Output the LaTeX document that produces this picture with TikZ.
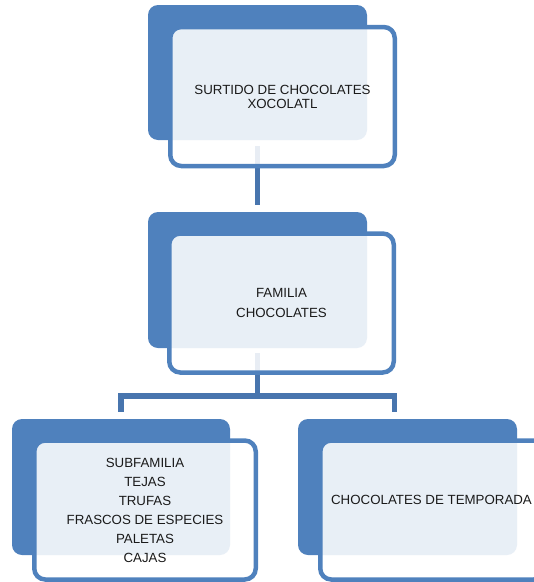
\documentclass[tikz,border=0pt]{standalone}
\usepackage{fontspec}
\setmainfont{Liberation Sans}
\definecolor{accent}{HTML}{4F81BD}
\definecolor{connc}{HTML}{4875AE}
\definecolor{txt}{HTML}{1A1A1A}
\tikzset{
  darkbox/.style={fill=accent, rounded corners=10pt, minimum width=219pt, minimum height=135pt, inner sep=0pt},
  framebox/.style={draw=accent, line width=4.5pt, fill=white, fill opacity=0.875, text opacity=1,
    rounded corners=11pt, minimum width=224.5pt, minimum height=139pt, inner sep=0pt,
    align=center, text=txt},
  conn/.style={draw=connc, line width=5.5pt},
  lbl/.style={inner sep=0pt, align=center, text=txt}
}
\begin{document}
\begin{tikzpicture}[x=1pt,y=-1pt]
\clip (0,0) rectangle (534,582);
% dark back panels
\node[darkbox] (topdark) at (257.5,72.5) {};
\node[darkbox, minimum height=136pt] (middark) at (257.5,280) {};
\node[darkbox, minimum width=218pt, minimum height=136pt] (ldark) at (121,487) {};
\node[darkbox, minimum height=136pt] (rdark) at (407.5,487) {};
% connectors
\coordinate (a1) at ([yshift=-6pt]topdark.south);
\coordinate (a2) at ([yshift=7pt]middark.north);
\draw[conn] (a1) -- (a2);
\coordinate (b1) at ([yshift=-5pt]middark.south);
\coordinate (bar) at (257.5,396);
\coordinate (l1) at ([yshift=7pt]ldark.north);
\coordinate (r1) at ([xshift=-13pt,yshift=7pt]rdark.north);
\draw[conn] (b1) -- (bar);
\draw[conn] (l1) -- (l1 |- bar) -- (r1 |- bar) -- (r1);
% framed front panels
\node[framebox, font=\fontsize{13.3}{14}\selectfont] (topbox) at (282.5,96.5)
  {SURTIDO DE CHOCOLATES\\XOCOLATL};
\node[framebox, font=\fontsize{13.3}{20}\selectfont] (midbox) at (281.5,303)
  {FAMILIA\\CHOCOLATES};
\node[framebox, minimum width=221.5pt, font=\fontsize{13.3}{19}\selectfont] (lbox) at (145,510)
  {SUBFAMILIA\\TEJAS\\TRUFAS\\FRASCOS DE ESPECIES\\PALETAS\\CAJAS};
\node[framebox] (rbox) at (432.5,510) {};
\node[lbl, font=\fontsize{13.3}{16}\selectfont] (rtext) at ([xshift=-1pt,yshift=10pt]rbox.center)
  {CHOCOLATES DE TEMPORADA};
\end{tikzpicture}
\end{document}
